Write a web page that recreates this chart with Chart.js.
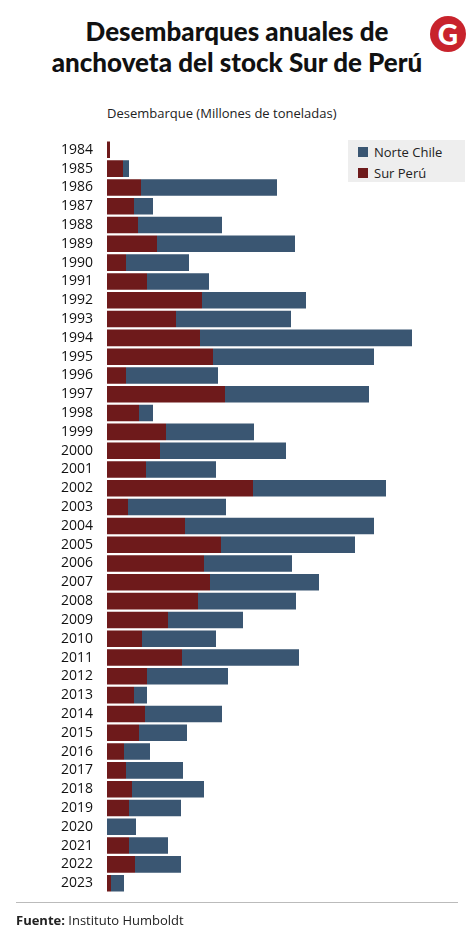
<!DOCTYPE html>
<html><head><meta charset="utf-8">
<script src="https://cdn.jsdelivr.net/npm/chart.js@4"></script>
<style>
body{margin:0;width:474px;height:948px;background:#fff;font-family:"Open Sans",sans-serif;position:relative;overflow:hidden}
h1{position:absolute;top:16px;left:0;width:474px;margin:0;text-align:center;font-family:Lato,sans-serif;font-weight:900;font-size:26px;line-height:31px;color:#111}
#logo{position:absolute;left:430px;top:16px;width:36px;height:36px;border-radius:50%;background:#c8232c;color:#fff;font:900 28px Lato;text-align:center;line-height:36px}
#axt{position:absolute;left:107px;top:104px;font-size:13px;color:#222}
#leg{position:absolute;left:348px;top:140px;width:117px;height:42px;background:#eee;font-size:13px;color:#222}
#leg div{display:flex;align-items:center;height:18px;margin:3px 0 0 10px}
#leg span{width:10px;height:10px;margin-right:6px}
#wrap{position:absolute;left:0;top:126px;width:474px;height:781px}
#foot{position:absolute;left:16px;right:16px;top:902px;border-top:1px solid #bbb;padding-top:8px;font-size:13px;color:#222}
</style></head><body>
<h1>Desembarques anuales de<br>anchoveta del stock Sur de Perú</h1>
<div id="logo">G</div>
<div id="axt">Desembarque (Millones de toneladas)</div>
<div id="wrap"><canvas id="c"></canvas></div>
<div id="leg"><div><span style="background:#3a5672"></span>Norte Chile</div><div><span style="background:#6e1a1b"></span>Sur Perú</div></div>
<div id="foot"><b>Fuente:</b> Instituto Humboldt</div>
<script>
const years = ["1984","1985","1986","1987","1988","1989","1990","1991","1992","1993","1994","1995","1996","1997","1998","1999","2000","2001","2002","2003","2004","2005","2006","2007","2008","2009","2010","2011","2012","2013","2014","2015","2016","2017","2018","2019","2020","2021","2022","2023"];
const surPeru = [0.03,0.16,0.34,0.27,0.31,0.50,0.19,0.40,0.95,0.69,0.93,1.06,0.19,1.18,0.32,0.59,0.53,0.39,1.46,0.21,0.78,1.14,0.97,1.03,0.91,0.61,0.35,0.75,0.40,0.27,0.38,0.32,0.17,0.19,0.25,0.22,0.00,0.22,0.28,0.04];
const norteChile = [0.00,0.06,1.36,0.19,0.84,1.38,0.63,0.62,1.04,1.15,2.12,1.61,0.92,1.44,0.14,0.88,1.26,0.70,1.33,0.98,1.89,1.34,0.88,1.09,0.98,0.75,0.74,1.17,0.81,0.13,0.77,0.48,0.26,0.57,0.72,0.52,0.29,0.39,0.46,0.13];

new Chart(document.getElementById("c"), {
  type: "bar",
  data: {
    labels: years,
    datasets: [
      { label: "Sur Perú", data: surPeru, backgroundColor: "#6e1a1b" },
      { label: "Norte Chile", data: norteChile, backgroundColor: "#3a5672" }
    ]
  },
  options: {
    indexAxis: "y",
    animation: false,
    responsive: true,
    maintainAspectRatio: false,
    layout: { padding: { left: 0, right: 4, top: 0, bottom: 0 } },
    barPercentage: 0.88,
    categoryPercentage: 1,
    plugins: { legend: { display: false }, tooltip: { enabled: false } },
    scales: {
      x: { stacked: true, min: 0, max: 3.63, display: false },
      y: {
        stacked: true,
        grid: { display: false },
        border: { display: false },
        ticks: { autoSkip: false, color: "#111", font: { family: "Open Sans", size: 14 }, padding: 6 },
        afterFit: (a) => { a.width = 107; }
      }
    }
  }
});
</script>
</body></html>
